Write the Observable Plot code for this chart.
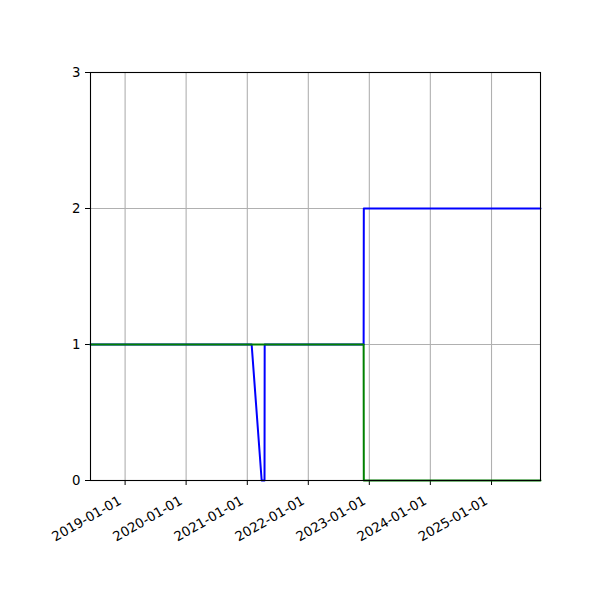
<!DOCTYPE html>
<html>
<head>
<meta charset="utf-8">
<script src="https://cdn.jsdelivr.net/npm/d3@7"></script>
<script src="https://cdn.jsdelivr.net/npm/@observablehq/plot@0.6"></script>
<style>
  body { margin: 0; background: #fff; }
  #chart svg { display: block; }
</style>
</head>
<body>
<div id="chart"></div>
<script>
const blueDates = ["2018-06-08","2021-01-27","2021-03-28","2021-04-14","2021-04-15","2022-11-28","2022-11-29","2025-10-21"];
const blueValues = [1, 1, 0, 0, 1, 1, 2, 2];
const greenDates = ["2018-06-08","2022-11-28","2022-11-29","2025-10-21"];
const greenValues = [1, 1, 0, 0];
const xTickLabels = ["2019-01-01","2020-01-01","2021-01-01","2022-01-01","2023-01-01","2024-01-01","2025-01-01"];
const yTicks = [0, 1, 2, 3];
const xDomain = ["2018-06-08","2025-10-21"];

const parse = d3.utcParse("%Y-%m-%d");
const blue = blueDates.map((d, i) => ({date: parse(d), value: blueValues[i]}));
const green = greenDates.map((d, i) => ({date: parse(d), value: greenValues[i]}));
const xTicks = xTickLabels.map(parse);
const fmt = d3.utcFormat("%Y-%m-%d");

const chart = Plot.plot({
  width: 600,
  height: 600,
  marginLeft: 90,
  marginRight: 60,
  marginTop: 72,
  marginBottom: 120,
  style: {fontFamily: "DejaVu Sans", fontSize: "13.3px", color: "#000", background: "#fff"},
  x: {type: "utc", domain: xDomain.map(parse), ticks: xTicks, tickFormat: fmt, tickRotate: -30, tickSize: 5, tickPadding: 9, label: null},
  y: {domain: [0, 3], ticks: yTicks, tickFormat: d => String(d), tickSize: 5, tickPadding: 5, label: null},
  marks: [
    Plot.ruleX(xTicks, {stroke: "#b0b0b0", strokeWidth: 1.1, strokeOpacity: 1}),
    Plot.ruleY(yTicks, {stroke: "#b0b0b0", strokeWidth: 1.1, strokeOpacity: 1}),
    Plot.line(blue, {x: "date", y: "value", stroke: "#0000ff", strokeWidth: 2}),
    Plot.line(green, {x: "date", y: "value", stroke: "#008000", strokeWidth: 2}),
    Plot.frame({stroke: "#000", strokeWidth: 1.1})
  ]
});
d3.select(chart).selectAll('g[aria-label="x-axis tick label"]').each(function() {
  const t = this.getAttribute("transform") || "";
  this.setAttribute("transform", t + " translate(-5,5)");
});
document.getElementById("chart").appendChild(chart);
</script>
</body>
</html>
